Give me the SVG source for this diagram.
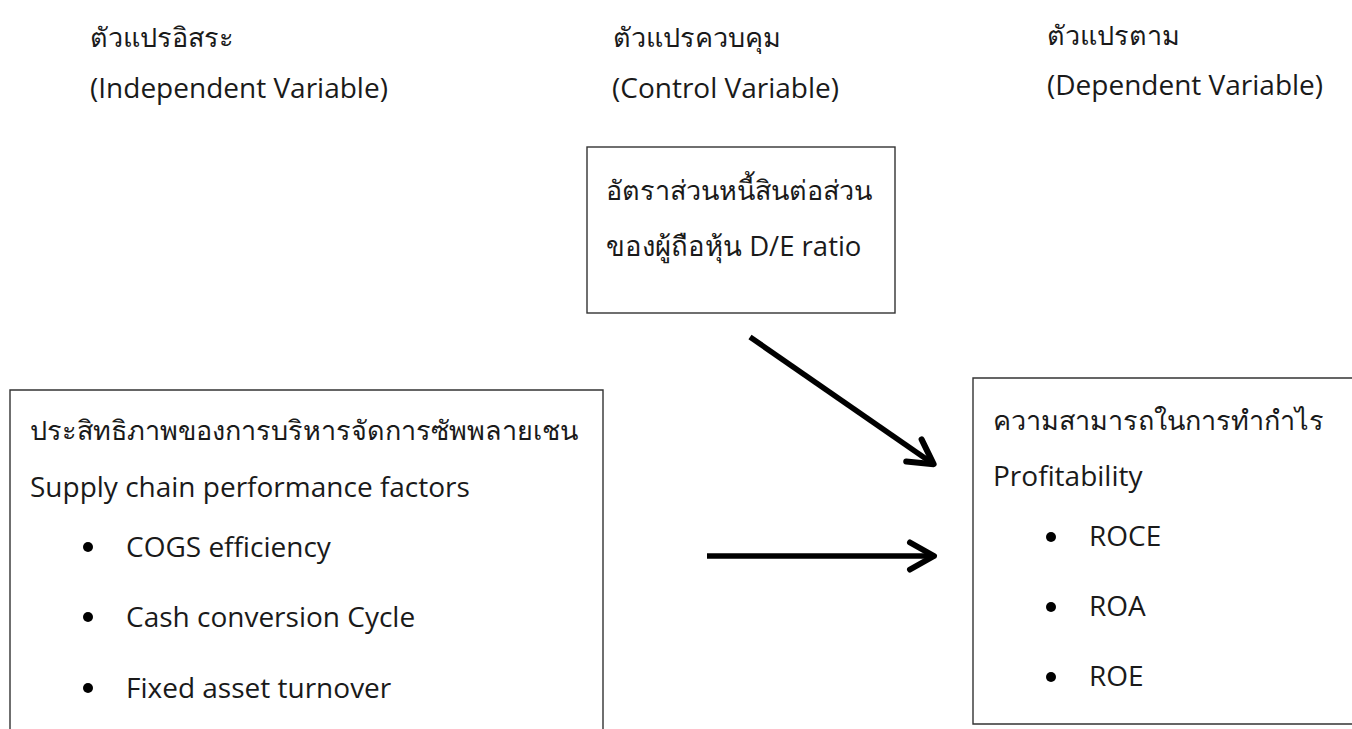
<svg xmlns="http://www.w3.org/2000/svg" width="1352" height="729" viewBox="0 0 1352 729">
  <style>
    text { font-family: "Open Sans", "Noto Sans", sans-serif; font-size: 28px; fill: #1a1a1a; }
    text.th { font-size: 27px; }
    .box { fill: none; stroke: #333; stroke-width: 1.4; }
    .bullet { fill: #000; }
    .conn { stroke: #000; stroke-width: 5.5; fill: none; stroke-linecap: butt; }
  </style>
  <defs>
    <marker id="chev" markerUnits="userSpaceOnUse" markerWidth="40" markerHeight="40" viewBox="-30 -20 40 40" refX="0" refY="0" orient="auto" overflow="visible">
      <path d="M-22,-13.5 L2,0 L-22,13.5" fill="none" stroke="#000" stroke-width="6" stroke-linecap="round" stroke-linejoin="round"/>
    </marker>
  </defs>
  <rect width="1352" height="729" fill="#fff"/>

  <g id="labels">
    <text class="th" x="90" y="47">ตัวแปรอิสระ</text>
    <text x="90" y="98">(Independent Variable)</text>
    <text class="th" x="613" y="47">ตัวแปรควบคุม</text>
    <text x="612" y="98">(Control Variable)</text>
    <text class="th" x="1047" y="45">ตัวแปรตาม</text>
    <text x="1047" y="95">(Dependent Variable)</text>
  </g>

  <g id="control">
    <rect class="box" x="587" y="147" width="308" height="166"/>
    <text class="th" x="606" y="200">อัตราส่วนหนี้สินต่อส่วน</text>
    <text x="606" y="256" style="font-size:27.5px">ของผู้ถือหุ้น D/E ratio</text>
  </g>

  <g id="independent">
    <path class="box" d="M10,735 V390 H603 V735"/>
    <text class="th" x="30" y="440">ประสิทธิภาพของการบริหารจัดการซัพพลายเชน</text>
    <text x="30" y="497">Supply chain performance factors</text>
    <circle class="bullet" cx="88" cy="547" r="5"/>
    <text x="126" y="557">COGS efficiency</text>
    <circle class="bullet" cx="88" cy="617" r="5"/>
    <text x="126" y="627">Cash conversion Cycle</text>
    <circle class="bullet" cx="88" cy="688" r="5"/>
    <text x="126" y="698">Fixed asset turnover</text>
  </g>

  <g id="dependent">
    <path class="box" d="M1360,378 H973 V724 H1360"/>
    <text class="th" x="993" y="430">ความสามารถในการทำกำไร</text>
    <text x="993" y="486">Profitability</text>
    <circle class="bullet" cx="1051" cy="537" r="5"/>
    <text x="1089" y="546">ROCE</text>
    <circle class="bullet" cx="1051" cy="607" r="5"/>
    <text x="1089" y="616">ROA</text>
    <circle class="bullet" cx="1051" cy="677" r="5"/>
    <text x="1089" y="686">ROE</text>
  </g>

  <g id="connectors">
    <line class="conn" x1="750" y1="337" x2="932" y2="463" marker-end="url(#chev)"/>
    <line class="conn" x1="707" y1="556" x2="932" y2="556" marker-end="url(#chev)"/>
  </g>
</svg>
